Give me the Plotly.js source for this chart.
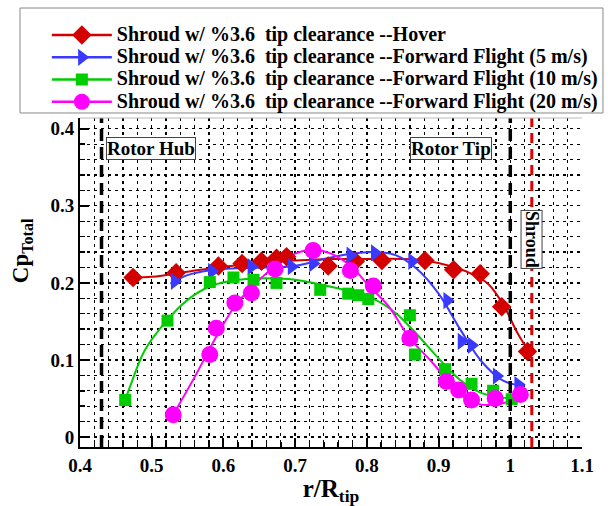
<!DOCTYPE html>
<html>
<head>
<meta charset="utf-8">
<script src="https://cdn.plot.ly/plotly-3.0.1.min.js"></script>
<style>html,body{margin:0;padding:0;background:#fff;}#chart{width:608px;height:506px;}</style>
</head>
<body>
<div id="chart"></div>
<script>
// ---- Data ----
const seriesNames = [
  'Shroud w/ %3.6  tip clearance --Hover',
  'Shroud w/ %3.6  tip clearance --Forward Flight (5 m/s)',
  'Shroud w/ %3.6  tip clearance --Forward Flight (10 m/s)',
  'Shroud w/ %3.6  tip clearance --Forward Flight (20 m/s)'
];

// Hover (red diamonds)
const hoverX = [0.474,0.534,0.593,0.626,0.653,0.674,0.688,0.746,0.784,0.821,0.881,0.921,0.958,0.988,1.024];
const hoverY = [0.207,0.213,0.222,0.225,0.228,0.232,0.234,0.222,0.228,0.229,0.229,0.217,0.212,0.169,0.111];
const hoverFitX = [0.474,0.50,0.534,0.56,0.60,0.65,0.70,0.75,0.80,0.85,0.88,0.92,0.95,0.97,0.99,1.01,1.028];
const hoverFitY = [0.207,0.208,0.212,0.216,0.221,0.226,0.229,0.231,0.231,0.231,0.229,0.221,0.210,0.198,0.172,0.135,0.108];

// Forward flight 5 m/s (blue triangles)
const ff5X = [0.532,0.584,0.639,0.695,0.725,0.777,0.811,0.863,0.912,0.932,0.946,0.981,1.011];
const ff5Y = [0.202,0.215,0.221,0.221,0.225,0.236,0.239,0.228,0.177,0.124,0.119,0.079,0.068];
const ff5FitX = [0.526,0.55,0.58,0.62,0.66,0.70,0.74,0.78,0.81,0.84,0.87,0.90,0.93,0.96,0.99,1.02];
const ff5FitY = [0.199,0.210,0.216,0.219,0.220,0.222,0.231,0.238,0.240,0.236,0.218,0.186,0.140,0.098,0.073,0.066];

// Forward flight 10 m/s (green squares)
const ff10X = [0.463,0.522,0.581,0.614,0.642,0.674,0.735,0.774,0.788,0.802,0.860,0.867,0.909,0.946,0.976,1.002];
const ff10Y = [0.048,0.151,0.201,0.207,0.204,0.200,0.191,0.186,0.184,0.179,0.158,0.107,0.088,0.069,0.060,0.049];
const ff10FitX = [0.463,0.47,0.49,0.52,0.55,0.58,0.62,0.66,0.70,0.74,0.78,0.81,0.84,0.87,0.90,0.93,0.96,1.0];
const ff10FitY = [0.048,0.066,0.112,0.150,0.178,0.195,0.204,0.206,0.204,0.197,0.188,0.179,0.161,0.133,0.102,0.074,0.057,0.050];

// Forward flight 20 m/s (magenta circles)
const ff20X = [0.530,0.581,0.590,0.616,0.639,0.672,0.725,0.777,0.809,0.860,0.911,0.928,0.946,0.979,1.014];
const ff20Y = [0.029,0.107,0.141,0.174,0.187,0.218,0.242,0.216,0.196,0.128,0.072,0.061,0.048,0.050,0.055];
const ff20FitX = [0.530,0.56,0.59,0.616,0.64,0.67,0.70,0.725,0.75,0.78,0.80,0.83,0.86,0.89,0.91,0.935,0.955,0.98,1.014];
const ff20FitY = [0.029,0.078,0.130,0.170,0.195,0.220,0.238,0.243,0.238,0.220,0.199,0.170,0.128,0.098,0.076,0.052,0.043,0.042,0.051];

// Reference lines (r/R positions)
const hubX = 0.43;
const tipX = 1.0;
const shroudX = 1.03;

const xTickVals = [0.4,0.5,0.6,0.7,0.8,0.9,1.0,1.1];
const xTickText = ['0.4','0.5','0.6','0.7','0.8','0.9','1','1.1'];
const yTickVals = [0,0.1,0.2,0.3,0.4];
const yTickText = ['0','0.1','0.2','0.3','0.4'];

// ---- Styling ----
const serif = 'Liberation Serif, Times New Roman, Times, serif';
const colors = ['#d40000','#3a3aff','#00cc00','#ff00ff'];
const symbols = ['diamond','triangle-right','square','circle'];
const sizes = [15,15,12,17];

const pts = [[hoverX,hoverY],[ff5X,ff5Y],[ff10X,ff10Y],[ff20X,ff20Y]];
const fits = [[hoverFitX,hoverFitY],[ff5FitX,ff5FitY],[ff10FitX,ff10FitY],[ff20FitX,ff20FitY]];

const traces = [];
for (let i = 0; i < 4; i++) {
  traces.push({
    x: fits[i][0], y: fits[i][1], mode: 'lines', type: 'scatter',
    line: {color: colors[i], width: 2, shape: 'spline', smoothing: 1},
    showlegend: false, hoverinfo: 'skip'
  });
}
for (let i = 0; i < 4; i++) {
  traces.push({
    x: pts[i][0], y: pts[i][1], mode: 'markers', type: 'scatter',
    marker: {color: colors[i], symbol: symbols[i], size: sizes[i]},
    showlegend: false
  });
}
for (let i = 0; i < 4; i++) {
  traces.push({
    x: [null], y: [null], mode: 'lines+markers', type: 'scatter',
    name: '<span style="font-size:20px">' + seriesNames[i] + '</span>',
    line: {color: colors[i], width: 2.5},
    marker: {color: colors[i], symbol: symbols[i], size: sizes[i]},
    showlegend: true
  });
}

const gridDash = '3px,4px';

const layout = {
  width: 608, height: 506,
  margin: {l: 80, r: 26, t: 118, b: 59},
  paper_bgcolor: '#fff', plot_bgcolor: '#fff',
  font: {family: serif, color: '#000', size: 16, weight: 'bold'},
  showlegend: true,
  legend: {
    x: -0.066, y: 1.301, xanchor: 'left', yanchor: 'top',
    bgcolor: 'rgba(0,0,0,0)', borderwidth: 0,
    font: {family: serif, size: 14.8, color: '#000', weight: 'bold'},
    tracegroupgap: 0, itemwidth: 60
  },
  xaxis: {
    range: [0.4, 1.1], tickmode: 'array', tickvals: xTickVals, ticktext: xTickText,
    showgrid: true, gridcolor: '#000', griddash: gridDash, gridwidth: 1.3,
    zeroline: false, showline: true, linecolor: '#000', linewidth: 2,
    ticks: 'inside', ticklen: 9, tickwidth: 2, tickcolor: '#000',
    tickfont: {family: serif, size: 19, weight: 'bold'},
    minor: {dtick: 0.02, tick0: 0.4, showgrid: true, gridcolor: '#000', griddash: gridDash, gridwidth: 1.3,
            ticks: 'inside', ticklen: 5, tickcolor: '#000', tickwidth: 1.5},
    title: {text: 'r/R<sub>tip</sub>', font: {family: serif, size: 25, weight: 'bold'}, standoff: 6}
  },
  yaxis: {
    range: [-0.013, 0.414], tickmode: 'array', tickvals: yTickVals, ticktext: yTickText,
    showgrid: true, gridcolor: '#000', griddash: gridDash, gridwidth: 1.3,
    zeroline: false, showline: true, linecolor: '#000', linewidth: 2,
    ticks: 'inside', ticklen: 9, tickwidth: 2, tickcolor: '#000',
    tickfont: {family: serif, size: 19, weight: 'bold'},
    minor: {dtick: 0.02, tick0: 0, showgrid: true, gridcolor: '#000', griddash: gridDash, gridwidth: 1.3,
            ticks: 'inside', ticklen: 5, tickcolor: '#000', tickwidth: 1.5},
    title: {text: '&nbsp;&nbsp;&nbsp;&nbsp;&nbsp;&nbsp;&nbsp;&nbsp;&nbsp;&nbsp;&nbsp;Cp<sub>Total</sub>',
            font: {family: serif, size: 23, weight: 'bold'}, standoff: 15}
  },
  shapes: [
    {type: 'line', xref: 'x', yref: 'paper', x0: hubX, x1: hubX, y0: 0, y1: 1,
     line: {color: '#000', width: 3.5, dash: '12px,6px'}},
    {type: 'line', xref: 'x', yref: 'paper', x0: tipX, x1: tipX, y0: 0, y1: 1,
     line: {color: '#000', width: 3.5, dash: '12px,6px'}},
    {type: 'line', xref: 'x', yref: 'paper', x0: shroudX, x1: shroudX, y0: 0, y1: 1,
     line: {color: '#e00000', width: 3, dash: '10px,6px'}},
    {type: 'line', xref: 'paper', yref: 'paper', x0: 0, x1: 1, y0: 1, y1: 1,
     line: {color: '#bbbbbb', width: 1}},
    {type: 'rect', xref: 'paper', yref: 'paper', x0: -0.1195, x1: 1.0418, y0: 1.0152, y1: 1.3343,
     line: {color: '#888888', width: 1}, fillcolor: 'rgba(0,0,0,0)', layer: 'above'}
  ],
  annotations: [
    {text: 'Rotor Hub', x: 0.499, y: 0.375, xref: 'x', yref: 'y', showarrow: false,
     font: {family: serif, size: 19, weight: 'bold'}, bgcolor: '#fff', bordercolor: '#444', borderwidth: 1, borderpad: 0},
    {text: 'Rotor Tip', x: 0.917, y: 0.375, xref: 'x', yref: 'y', showarrow: false,
     font: {family: serif, size: 19, weight: 'bold'}, bgcolor: '#fff', bordercolor: '#444', borderwidth: 1, borderpad: 0},
    {text: 'Shroud', x: shroudX, y: 0.256, xref: 'x', yref: 'y', showarrow: false, textangle: 90,
     font: {family: serif, size: 18, weight: 'bold'}, bgcolor: '#fff', bordercolor: '#444', borderwidth: 1, borderpad: 0}
  ]
};

Plotly.newPlot('chart', traces, layout, {displayModeBar: false, staticPlot: true});
</script>
</body>
</html>
